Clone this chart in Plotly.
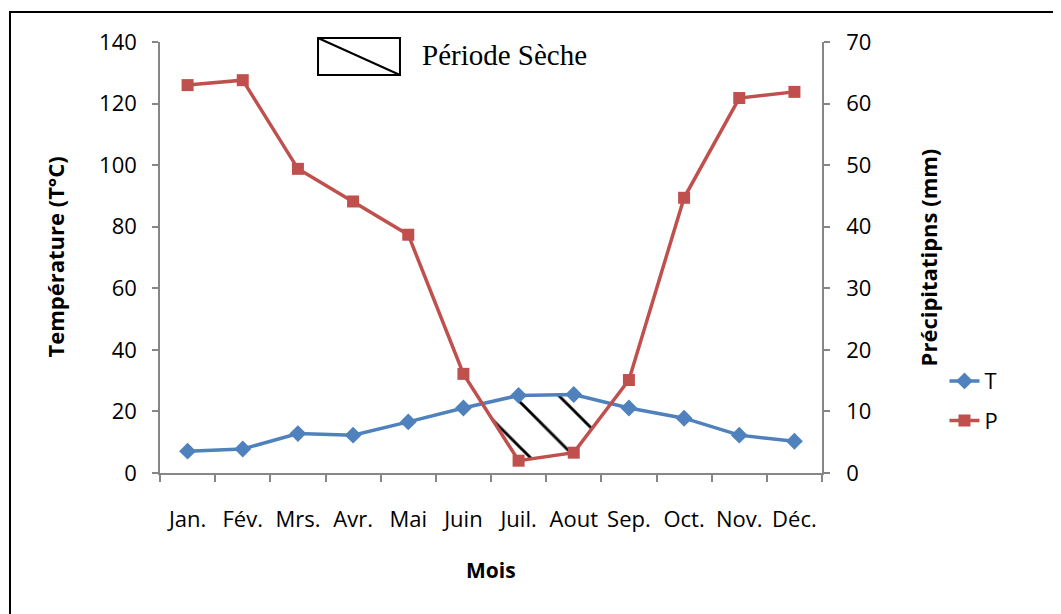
import plotly.graph_objects as go

months = ["Jan.", "Fév.", "Mrs.", "Avr.", "Mai", "Juin", "Juil.", "Aout", "Sep.", "Oct.", "Nov.", "Déc."]
T = [7.1, 7.8, 12.8, 12.3, 16.6, 21.1, 25.2, 25.5, 21.1, 17.8, 12.3, 10.3]
P = [63.0, 63.8, 49.4, 44.1, 38.7, 16.1, 2.0, 3.3, 15.1, 44.7, 60.9, 61.9]

BLUE = "#4F81BD"
RED = "#C0504D"
GRAY = "#868686"
FONT = "Open Sans"
FS = 22

x = list(range(len(months)))

# Dry period (P < 2T): polygon between T and 2P curves, derived from data
P2 = [2 * p for p in P]
diff = [P2[i] - T[i] for i in x]
upper_x, upper_y, lower_x, lower_y = [], [], [], []
for i in x:
    if i > 0 and (diff[i - 1] > 0) != (diff[i] > 0):
        t = diff[i - 1] / (diff[i - 1] - diff[i])
        xc = i - 1 + t
        yc = T[i - 1] + t * (T[i] - T[i - 1])
        upper_x.append(xc); upper_y.append(yc)
        lower_x.append(xc); lower_y.append(yc)
    if diff[i] < 0:
        upper_x.append(i); upper_y.append(T[i])
        lower_x.append(i); lower_y.append(P2[i])
poly_x = upper_x + lower_x[::-1]
poly_y = upper_y + lower_y[::-1]

fig = go.Figure()
fig.add_trace(go.Scatter(
    x=poly_x, y=poly_y, mode="none", fill="toself",
    fillcolor="rgba(0,0,0,0)",
    fillpattern=dict(shape="\\", fgcolor="black", fgopacity=1, bgcolor="rgba(0,0,0,0)",
                     size=32, solidity=0.09, fillmode="overlay"),
    showlegend=False, hoverinfo="skip"))
fig.add_trace(go.Scatter(
    x=x, y=T, name="T", mode="lines+markers",
    line=dict(color=BLUE, width=3.5),
    marker=dict(symbol="diamond", size=13, color=BLUE),
    legendgroup="T"))
fig.add_trace(go.Scatter(
    x=x, y=P, name="P", mode="lines+markers", yaxis="y2",
    line=dict(color=RED, width=3.5),
    marker=dict(symbol="square", size=12, color=RED),
    legendgroup="P"))

fig.update_layout(
    width=1053, height=606,
    margin=dict(l=152, r=239, t=34, b=141),
    paper_bgcolor="white", plot_bgcolor="white",
    font=dict(family=FONT, size=FS, color="black"),
    xaxis=dict(
        range=[-0.5, 11.5], tickvals=x, ticktext=months, ticks="",
        showline=True, linecolor=GRAY, linewidth=1.5, showgrid=False,
        zeroline=False, ticklabelstandoff=26,
        minor=dict(tickvals=[i - 0.5 for i in range(len(months) + 1)],
                   ticks="outside", ticklen=7, tickcolor=GRAY, tickwidth=1.5,
                   showgrid=False),
    ),
    yaxis=dict(
        range=[0, 140], tickvals=list(range(0, 141, 20)),
        ticks="outside", ticklen=6, tickcolor=GRAY, tickwidth=1.5,
        showline=True, linecolor=GRAY, linewidth=1.5, showgrid=False,
        zeroline=False, ticklabelstandoff=11,
    ),
    yaxis2=dict(
        range=[0, 70], tickvals=list(range(0, 71, 10)), overlaying="y", side="right",
        ticks="outside", ticklen=6, tickcolor=GRAY, tickwidth=1.5,
        showline=True, linecolor=GRAY, linewidth=1.5, showgrid=False,
        zeroline=False, ticklabelstandoff=12,
    ),
    legend=dict(x=1.185, y=0.262, xanchor="left", yanchor="top",
                traceorder="grouped", tracegroupgap=8,
                font=dict(family=FONT, size=FS), bgcolor="rgba(0,0,0,0)"),
    showlegend=True,
)

# Axis titles
fig.add_annotation(text="<b>Température (T°C)</b>", xref="paper", yref="paper",
                   x=-0.16, y=0.5, textangle=-90, showarrow=False,
                   font=dict(family=FONT, size=FS), xanchor="center", yanchor="middle")
fig.add_annotation(text="<b>Précipitatipns (mm)</b>", xref="paper", yref="paper",
                   x=1.16, y=0.5, textangle=-90, showarrow=False,
                   font=dict(family=FONT, size=FS), xanchor="center", yanchor="middle")
fig.add_annotation(text="<b>Mois</b>", xref="paper", yref="paper",
                   x=0.5, y=-0.225, showarrow=False,
                   font=dict(family=FONT, size=FS - 1), xanchor="center", yanchor="middle")

# "Période Sèche" key
fig.add_shape(type="rect", xref="paper", yref="paper",
              x0=0.2387, x1=0.3625, y0=0.9234, y1=1.0093,
              line=dict(color="black", width=2))
fig.add_shape(type="line", xref="paper", yref="paper",
              x0=0.2387, x1=0.3625, y0=1.0093, y1=0.9234,
              line=dict(color="black", width=2))
fig.add_annotation(text="Période Sèche", xref="paper", yref="paper",
                   x=0.392, y=0.97, showarrow=False, xanchor="left", yanchor="middle",
                   font=dict(family="Liberation Serif", size=29))

# Outer frame (right edge lies beyond the visible area)
fig.add_shape(type="rect", xref="paper", yref="paper",
              x0=-0.2266, x1=1.42, y0=-0.36, y1=1.0696,
              line=dict(color="black", width=2), layer="below")

fig.write_html("out.html")
